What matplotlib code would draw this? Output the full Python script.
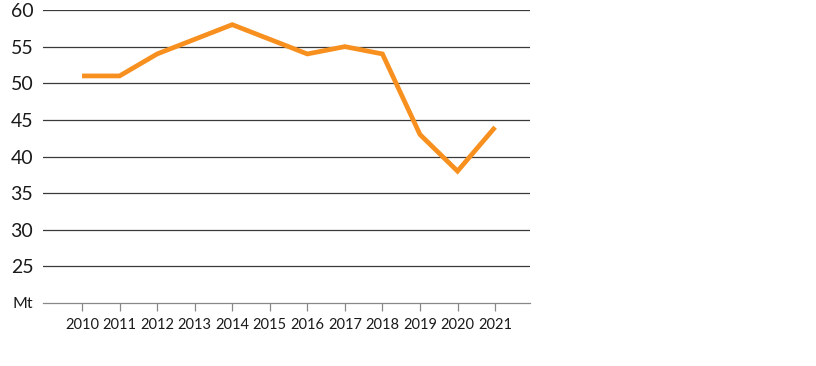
import matplotlib.pyplot as plt

years = [2010, 2011, 2012, 2013, 2014, 2015, 2016, 2017, 2018, 2019, 2020, 2021]
values = [51, 51, 54, 56, 58, 56, 54, 55, 54, 43, 38, 44]
y_ticks = [20, 25, 30, 35, 40, 45, 50, 55, 60]
y_labels = ["Mt", "25", "30", "35", "40", "45", "50", "55", "60"]

plt.rcParams['font.family'] = ['Lato', 'DejaVu Sans']

fig = plt.figure(figsize=(8.16, 3.66), dpi=100)
ax = fig.add_axes([43 / 816, 1 - 303 / 366, 487 / 816, 293 / 366])

# gridlines
for t in y_ticks[1:]:
    ax.axhline(t, color='#3a3a3a', lw=0.9, zorder=1)

ax.plot(years, values, color='#F7901E', lw=3.4, solid_capstyle='butt',
        solid_joinstyle='miter', zorder=3)

ax.set_xlim(2008.96, 2021.93)
ax.set_ylim(20, 60)

ax.set_xticks(years)
ax.set_xticklabels([str(y) for y in years], fontsize=10.5, color='#1a1a1a')
ax.set_yticks(y_ticks)
ax.set_yticklabels(y_labels, color='#1a1a1a')
for lab in ax.get_yticklabels():
    lab.set_fontsize(14 if lab.get_text() != "Mt" else 11.5)

ax.tick_params(axis='x', length=6, width=0.9, color='#888888', pad=5)
ax.tick_params(axis='y', length=0, pad=7)

for s in ['top', 'right', 'left']:
    ax.spines[s].set_visible(False)
ax.spines['bottom'].set_color('#888888')
ax.spines['bottom'].set_linewidth(0.9)

fig.savefig('out.png', dpi=100)
